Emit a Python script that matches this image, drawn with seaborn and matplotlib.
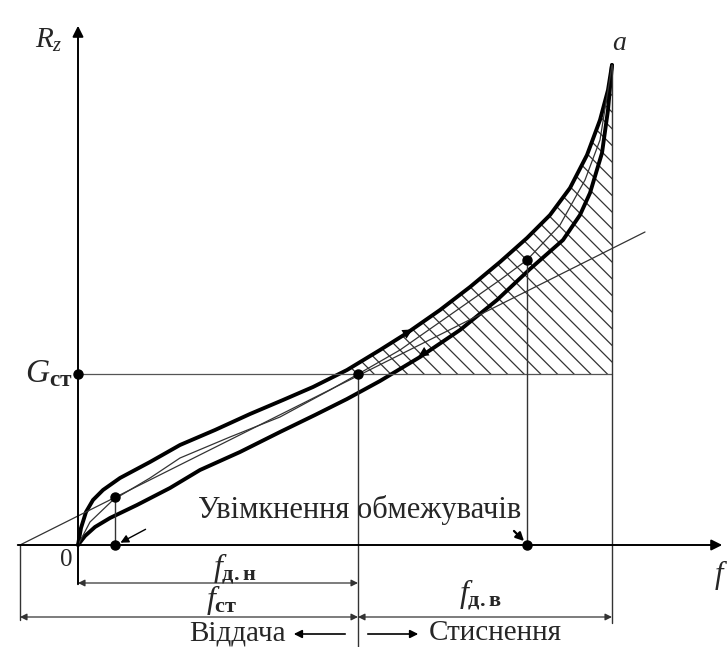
import numpy as np
import pandas as pd
import seaborn as sns
import matplotlib
matplotlib.use('Agg')
import matplotlib.pyplot as plt

# deflection f / force Rz (origin at the "0" point)
upper_f = [0, 3, 8, 15, 25, 42, 72, 102, 137, 172, 205, 235, 269, 302, 329, 362, 392, 422, 449, 472, 492, 509, 522, 530, 534]
upper_r = [0, 17, 33, 45, 55, 67, 83, 100, 115, 131, 145, 158, 175, 195, 212, 235, 258, 283, 307, 330, 357, 390, 425, 455, 480]

lower_f = [0, 7, 17, 32, 59, 92, 122, 162, 202, 237, 269, 302, 342, 382, 419, 452, 485, 502, 512, 524, 530, 534]
lower_r = [0, 9, 18, 27, 40, 57, 75, 93, 113, 130, 146, 164, 188, 215, 245, 276, 305, 330, 352, 392, 435, 480]

mid_f = [0, 12, 35, 72, 102, 152, 202, 252, 282, 322, 372, 422, 449, 482, 507, 522, 534]
mid_r = [0, 23, 45, 67, 87, 108, 128, 155, 172, 195, 230, 265, 285, 320, 365, 405, 480]

lin_f = [-58, 567]
lin_r = [0, 313]

f_st = 280
g_st = 171
f_max = 534
f_lim = 449
r_lim = 285
f_small = 37
r_small = 48

sns.set_style('white')
plt.rcParams['font.family'] = ['Liberation Serif', 'DejaVu Serif']
plt.rcParams['mathtext.fontset'] = 'custom'
plt.rcParams['mathtext.rm'] = 'Liberation Serif'
plt.rcParams['mathtext.it'] = 'Liberation Serif:italic'
plt.rcParams['mathtext.bf'] = 'Liberation Serif:bold'
plt.rcParams['hatch.linewidth'] = 0.9

fig = plt.figure(figsize=(7.28, 6.47), dpi=100)
ax = fig.add_axes([0, 0, 1, 1])
ax.set_xlim(-78, 650)
ax.set_ylim(-102, 545)
ax.axis('off')

up = pd.DataFrame({'f': upper_f, 'r': upper_r})
lo = pd.DataFrame({'f': lower_f, 'r': lower_r})
md = pd.DataFrame({'f': mid_f, 'r': mid_r})

# hatched work area above G_ст
hf = np.array(upper_f, dtype=float)
hr = np.array(upper_r, dtype=float)
keep = hr >= g_st
x_start = np.interp(g_st, hr, hf)
poly_x = np.concatenate([[x_start], hf[keep], [f_max]])
poly_y = np.concatenate([[g_st], hr[keep], [g_st]])
ax.fill(poly_x, poly_y, facecolor='none', edgecolor='#333333', hatch='\\\\', lw=0)

sns.lineplot(data=up, x='f', y='r', sort=False, estimator=None, color='black', lw=2.8, ax=ax)
sns.lineplot(data=lo, x='f', y='r', sort=False, estimator=None, color='black', lw=2.8, ax=ax)
sns.lineplot(data=md, x='f', y='r', sort=False, estimator=None, color='#333333', lw=0.9, ax=ax)
ax.plot(lin_f, lin_r, color='#333333', lw=0.9)

# axes with arrows
ax.annotate('', xy=(647, 0), xytext=(-63, 0),
            arrowprops=dict(arrowstyle='-|>', color='black', lw=1.4, mutation_scale=16))
ax.annotate('', xy=(0, 522), xytext=(0, -42),
            arrowprops=dict(arrowstyle='-|>', color='black', lw=1.4, mutation_scale=16))

# helper lines
ax.plot([0, f_max], [g_st, g_st], color='#555555', lw=0.9)
ax.plot([f_st, f_st], [g_st, -102], color='#333333', lw=1.0)
ax.plot([f_max, f_max], [480, -78], color='#333333', lw=1.0)
ax.plot([f_lim, f_lim], [r_lim, 0], color='#333333', lw=1.0)
ax.plot([f_small, f_small], [r_small, 0], color='#333333', lw=1.0)
ax.plot([-58, -58], [0, -75], color='#333333', lw=1.0)

# points
ax.plot([0, f_st, f_lim, f_lim, f_small, f_small], [g_st, g_st, r_lim, 0, r_small, 0],
        'o', color='black', ms=6.5)

# direction arrows on the loop
ax.annotate('', xy=(337, 217), xytext=(318, 206),
            arrowprops=dict(arrowstyle='-|>', color='black', lw=0, mutation_scale=18))
ax.annotate('', xy=(338, 187), xytext=(357, 199),
            arrowprops=dict(arrowstyle='-|>', color='black', lw=0, mutation_scale=18))

# pointer arrows
ax.annotate('', xy=(40, 1), xytext=(70, 17),
            arrowprops=dict(arrowstyle='-|>', color='black', lw=1.0, mutation_scale=12))
ax.annotate('', xy=(448, 2), xytext=(434, 16),
            arrowprops=dict(arrowstyle='-|>', color='black', lw=1.6, mutation_scale=12))

# dimension lines
dim = dict(arrowstyle='<|-|>', color='#333333', lw=0.9, mutation_scale=10, shrinkA=0, shrinkB=0)
ax.annotate('', xy=(0, -38), xytext=(f_st, -38), arrowprops=dim)
ax.annotate('', xy=(-58, -72), xytext=(f_st, -72), arrowprops=dim)
ax.annotate('', xy=(f_st, -72), xytext=(f_max, -72), arrowprops=dim)

ax.annotate('', xy=(213, -89), xytext=(270, -89),
            arrowprops=dict(arrowstyle='-|>', color='black', lw=1.2, mutation_scale=12))
ax.annotate('', xy=(343, -89), xytext=(287, -89),
            arrowprops=dict(arrowstyle='-|>', color='black', lw=1.2, mutation_scale=12))

# labels
ax.text(-29, 505, r'$R_z$', fontsize=21, ha='center', va='center')
ax.text(-5, 171, r'$G_{\mathbf{ст}}$', fontsize=24, ha='right', va='center')
ax.text(-12, -15, '0', fontsize=18, ha='center', va='center')
ax.text(541, 502, r'$a$', fontsize=20, ha='center', va='center')
ax.text(636, -30, r'$f$', fontsize=22, ha='left', va='center')
ax.text(157, -24, r'$f_{\mathbf{д.н}}$', fontsize=23, ha='center', va='center')
ax.text(144, -55, r'$f_{\mathbf{ст}}$', fontsize=23, ha='center', va='center')
ax.text(402, -50, r'$f_{\mathbf{д.в}}$', fontsize=23, ha='center', va='center')
ax.text(282, 35, 'Увімкнення обмежувачів', fontsize=22, ha='center', va='center')
ax.text(160, -88, 'Віддача', fontsize=21, ha='center', va='center')
ax.text(417, -88, 'Стиснення', fontsize=21, ha='center', va='center')

fig.savefig('out.png', dpi=100)
